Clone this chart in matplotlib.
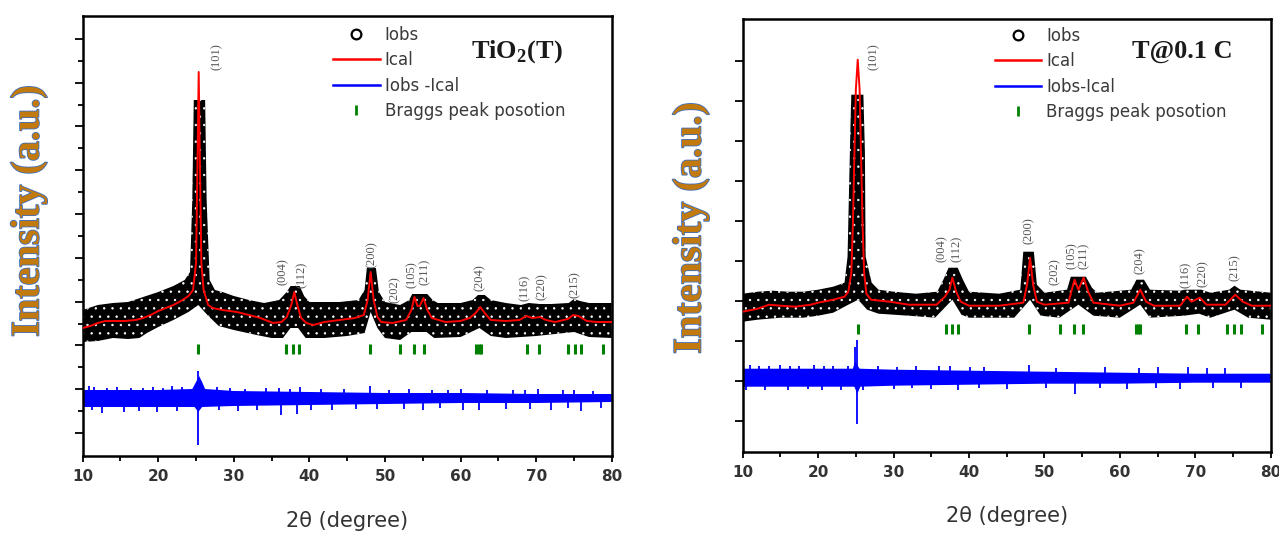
import matplotlib
matplotlib.use("Agg")
import matplotlib.pyplot as plt
import numpy as np
from matplotlib.lines import Line2D
import matplotlib.patheffects as pe

plt.rcParams["mathtext.fontset"] = "custom"
plt.rcParams["mathtext.rm"] = "Liberation Serif"
plt.rcParams["mathtext.bf"] = "Liberation Serif:bold"
plt.rcParams["hatch.linewidth"] = 0.5

# ---------------- data: TiO2 (T) ----------------
T_CAL_X = [10, 11, 12, 13, 14, 15.5, 17, 18, 19, 20, 21, 22, 23, 24, 24.6, 25.0, 25.2, 25.35, 25.5, 25.7, 26.0,
           26.6, 27.2, 28.5, 30.4, 32, 33.5, 35.2, 36.3, 37.0, 37.6, 38.0, 38.4, 38.9, 39.6, 40.5, 42, 44, 46,
           47.2, 47.7, 48.1, 48.5, 49, 49.5, 51, 52.8, 53.5, 53.9, 54.3, 54.6, 55.1, 55.6, 56.2, 58, 60, 61.2,
           62, 62.6, 63.3, 64, 66, 67.8, 68.7, 69.5, 70.5, 71.3, 72.5, 74.2, 74.9, 75.6, 76.7, 78, 80]
T_CAL_Y = [128, 130, 133, 135, 135, 135, 136, 138, 141, 145, 148, 151, 155, 160, 166, 193, 299, 384, 299, 193, 166,
           151, 148, 146, 144, 141, 138, 133, 134, 139, 151, 164, 151, 138, 133, 131, 134, 136, 138,
           141, 156, 184, 156, 139, 134, 133, 136, 146, 159, 150, 150, 158, 146, 138, 134, 135, 138,
           143, 149, 142, 136, 135, 136, 140, 138, 139, 136, 134, 137, 141, 140, 135, 134, 134]

T_OBS_UP_X = [10, 12, 14, 16, 18, 20, 22, 23.5, 24.2, 24.5, 24.7, 26.2, 26.4, 26.8, 27.5, 28.5, 30, 32, 34, 36, 37,
              37.5, 38.7, 39.3, 40, 44, 46.5, 47.3, 47.6, 48.8, 49.2, 50, 52, 53.2, 53.6, 55.6, 56.3, 57, 60,
              61.6, 62.3, 63.2, 64, 66, 68, 69, 70.5, 72, 74.3, 75, 75.8, 77, 80]
T_OBS_UP_Y = [146, 151, 153, 154, 159, 164, 170, 176, 184, 256, 356, 356, 256, 176, 166, 164, 160, 156, 153, 156, 164,
              170, 170, 160, 154, 154, 156, 166, 188, 188, 164, 154, 151, 156, 162, 162, 156, 153, 153,
              156, 161, 161, 156, 153, 151, 153, 152, 152, 153, 157, 155, 153, 153]
T_OBS_LO_X = [10, 12, 14, 16, 17.5, 18.5, 20, 22, 24, 25.3, 26.5, 28, 30, 33, 35, 36.5, 37.5, 38.5, 39.5, 42, 45,
              47.3, 48.1, 49, 50, 52, 53.5, 55.5, 56.5, 60, 62.5, 64, 66, 70, 75, 77, 80]
T_OBS_LO_Y = [114, 115, 118, 117, 118, 123, 129, 136, 144, 151, 141, 130, 126, 121, 118, 118, 128, 128, 118, 118, 120,
              123, 144, 128, 118, 116, 124, 124, 118, 119, 128, 120, 118, 120, 124, 119, 118]

T_DIF_UP_X = [10, 15, 20, 24.5, 25.0, 25.4, 25.8, 26.2, 30, 40, 50, 60, 70, 80]
T_DIF_UP_Y = [66, 66, 66, 67, 74, 80, 74, 67, 65, 64, 63, 63, 62, 62]
T_DIF_LO_X = [10, 20, 24.8, 25.3, 25.8, 30, 40, 50, 60, 70, 80]
T_DIF_LO_Y = [49, 49, 49, 44, 49, 50, 51, 52, 53, 53, 54]
T_SPIKE_X = [10.8, 11.5, 13.2, 14.6, 16.4, 18, 19.3, 20.6, 21.8, 23.2, 25.3, 27.8, 29.5, 31.5, 34.2, 36, 37.4,
             38.8, 41.5, 44.6, 48.0, 50.5, 53.2, 56.2, 58.4, 60, 63.5, 67, 68.5, 70.2, 73.5, 75, 77.5,
             11.2, 12.5, 15.5, 17.5, 19.8, 22.5, 25.3, 28, 30.6, 33, 36.2, 38.3, 40.2, 43, 46.2, 49, 52.5,
             55, 57.3, 60.3, 62.5, 66, 69.2, 72, 74.2, 76, 78.6]
T_SPIKE_Y = [70, 69, 68, 69, 68, 68, 69, 68, 70, 69, 85, 69, 68, 67, 68, 68, 67,
             69, 67, 67, 70, 66, 67, 66, 66, 67, 66, 66, 66, 67, 66, 66, 65,
             46, 43, 44, 45, 44, 45, 11, 46, 45, 46, 41, 42, 46, 46, 47, 47, 47,
             46, 48, 46, 46, 47, 47, 46, 48, 45, 48]

# ---------------- data: T@0.1 C ----------------
C_CAL_X = [10, 12, 13.5, 15, 17, 19, 20, 22, 23.5, 24.0, 24.4, 24.6, 25.0, 25.25, 25.5, 25.9, 26.1, 26.4, 27.0,
           29.5, 32, 35.7, 36.8, 37.4, 37.8, 38.3, 38.9, 40, 44, 47.2, 47.7, 48.1, 48.5, 49, 50, 53.2, 53.7,
           54.0, 54.5, 55.2, 55.8, 56.5, 60, 61.8, 62.7, 63.5, 64.5, 68, 68.9, 69.5, 70.6, 71.5, 74, 75.3,
           76.3, 77.5, 80]
C_CAL_Y = [140, 143, 147, 146, 145, 147, 149, 152, 155, 160, 179, 225, 362, 392, 362, 225, 179, 158, 152,
           150, 147, 147, 155, 162, 174, 160, 150, 146, 146, 149, 167, 194, 167, 150, 147, 149, 164,
           172, 162, 174, 160, 149, 146, 149, 162, 150, 146, 146, 155, 150, 154, 147, 147, 157,
           150, 146, 146]

C_OBS_UP_X = [10, 12, 14, 16, 18, 20, 22, 23.5, 23.9, 24.3, 24.4, 26.0, 26.2, 26.3, 27.1, 28, 30, 33, 35.8, 36.6,
              37.3, 38.5, 39.2, 40, 44, 46.8, 47.2, 48.6, 49.0, 50, 53, 53.5, 55.5, 56.3, 57, 61.5, 62.2, 63.2,
              64, 68, 68.6, 70.8, 72, 74.5, 75.2, 76, 80]
C_OBS_UP_Y = [158, 160, 161, 160, 160, 162, 165, 169, 195, 330, 357, 357, 300, 195, 169, 162, 160, 158, 160, 172,
              184, 184, 172, 160, 158, 162, 200, 200, 167, 159, 162, 175, 175, 164, 159, 162, 172, 172,
              162, 161, 162, 162, 159, 162, 166, 162, 159]
C_OBS_LO_X = [10, 12, 15, 18, 20, 22, 24, 25.3, 26.5, 28, 32, 35.5, 37.8, 39, 40, 46, 48.1, 49.5, 52, 54.5, 56.5,
              60, 62.7, 64, 68.5, 70.5, 72, 75.2, 77, 80]
C_OBS_LO_Y = [130, 132, 134, 134, 136, 139, 147, 152, 142, 138, 136, 134, 152, 137, 134, 134, 152, 136, 134, 147, 136,
              134, 147, 134, 136, 138, 134, 142, 134, 132]

C_DIF_UP_X = [10, 24.6, 24.9, 25.5, 30, 40, 50, 60, 70, 80]
C_DIF_UP_Y = [83, 83, 90, 83, 82, 81, 80, 79, 78, 78]
C_DIF_LO_X = [10, 24.8, 25.2, 25.6, 30, 40, 50, 60, 70, 80]
C_DIF_LO_Y = [65, 65, 58, 65, 66, 67, 68, 68, 69, 69]
C_SPIKE_X = [11, 12.2, 13.5, 15, 16.3, 17.5, 19.5, 20.8, 22, 24, 24.9, 25.2, 28, 30.5, 33, 36, 37.5, 40.1, 42,
             48, 51.5, 58, 62.6, 65, 69, 71.5, 74,
             10.5, 13, 16, 18.6, 20.5, 23, 25.2, 26, 30, 32.4, 35, 38.5, 41.3, 45, 50.2, 54, 57.4, 61,
             64.8, 68, 72.3, 76]
C_SPIKE_Y = [87, 86, 86, 87, 86, 86, 87, 86, 86, 86, 105, 112, 86, 85, 86, 86, 86, 85, 85,
             87, 84, 85, 84, 85, 85, 84, 84,
             62, 62, 62, 63, 62, 62, 28, 62, 63, 64, 63, 62, 64, 63, 64, 58, 64, 63,
             64, 63, 64, 64]

# ---------------- shared ----------------
BRAGG_X = [25.3, 36.9, 37.8, 38.6, 48.0, 52.0, 53.9, 55.1, 62.1, 62.4, 62.7, 68.8, 70.4, 74.2, 75.1, 76.0, 78.8]
HKL = ["(101)", "(004)", "(112)", "(200)", "(202)", "(105)", "(211)", "(204)", "(116)", "(220)", "(215)"]
T_HKL_X = [27.7, 36.5, 39.0, 48.2, 51.3, 53.6, 55.3, 62.5, 68.5, 70.7, 75.1]
T_HKL_Y = [399, 184, 181, 201, 166, 181, 184, 178, 168, 169, 171]
C_HKL_X = [27.4, 36.4, 38.4, 47.9, 51.4, 53.6, 55.2, 62.7, 68.7, 71.0, 75.3]
C_HKL_Y = [395, 203, 203, 221, 180, 196, 196, 191, 177, 178, 184]

W, H = 1279, 534
fig = plt.figure(figsize=(W / 100, H / 100), dpi=100)


def draw_panel(rect, cal_x, cal_y, up_x, up_y, lo_x, lo_y, dup_x, dup_y, dlo_x, dlo_y, sp_x, sp_y,
               hkl_x, hkl_y, bragg_y, ylim, yticks, minor, title, diff_label, leg_anchor):
    ax = fig.add_axes(rect)
    mid_x = np.array(dup_x, dtype=float)
    mid_y = (np.array(dup_y) + np.interp(mid_x, dlo_x, dlo_y)) / 2
    dif_base = np.interp(sp_x, mid_x, mid_y)

    # observed band (black with white speckles like overlapping open circles)
    ax.fill(np.r_[up_x, lo_x[::-1]], np.r_[up_y, lo_y[::-1]], facecolor="black",
            edgecolor="white", hatch="..", linewidth=0, zorder=2)
    ax.plot(cal_x, cal_y, color="#ff0000", lw=1.4, zorder=3)
    # difference
    ax.fill(np.r_[dup_x, dlo_x[::-1]], np.r_[dup_y, dlo_y[::-1]], facecolor="#0000ff",
            edgecolor="none", zorder=2)
    ax.vlines(sp_x, dif_base, sp_y, color="#0000ff", lw=1.3, zorder=2)
    # bragg positions
    ax.plot(BRAGG_X, [bragg_y] * len(BRAGG_X), ls="none", marker="|", ms=6.5, mew=2.2,
            color="#008000", zorder=3)
    for lab, x, y in zip(HKL, hkl_x, hkl_y):
        ax.text(x, y, lab, rotation=90, ha="center", va="center", fontsize=9,
                family="Liberation Serif", color="#555555", zorder=4)

    ax.set_xlim(10, 80)
    ax.set_ylim(*ylim)
    ax.set_xticks(np.arange(10, 81, 10))
    ax.set_xticks(np.arange(15, 80, 10), minor=True)
    ax.set_yticks(yticks)
    if minor is not None:
        ax.set_yticks(minor, minor=True)
    ax.set_yticklabels([])
    ax.tick_params(axis="both", which="major", direction="out", length=5.5, width=1.3,
                   labelsize=11, labelcolor="#333333", pad=5)
    ax.tick_params(axis="both", which="minor", direction="out", length=3.5, width=1.3)
    ax.tick_params(axis="x", which="major", length=4.5)
    for lab in ax.get_xticklabels():
        lab.set_fontweight("bold")
    for s in ax.spines.values():
        s.set_linewidth(1.8)

    handles = [
        Line2D([], [], ls="none", marker="o", ms=7, mfc="white", mec="black", mew=1.6),
        Line2D([], [], color="#ff0000", lw=1.8),
        Line2D([], [], color="#0000ff", lw=1.8),
        Line2D([], [], ls="none", marker="|", ms=6.5, mew=2, color="#008000"),
    ]
    ax.legend(handles, ["Iobs", "Ical", diff_label, "Braggs peak posotion"], loc="upper left",
              bbox_to_anchor=leg_anchor, frameon=False, borderpad=0, borderaxespad=0,
              handlelength=2.8, handletextpad=0.3, labelspacing=0.45,
              prop={"family": "DejaVu Sans", "size": 12}, labelcolor="#3a3a3a")
    ax.text(title[1], title[2], title[0], transform=ax.transAxes, ha="center", va="center",
            fontsize=19, fontweight="bold", family="Liberation Serif", color="#1a1a1a")
    ax.set_xlabel("2θ (degree)", fontsize=15, color="#333333", labelpad=19)
    return ax


left_ticks = 23 + 43.8 * np.arange(10)
draw_panel([82.7 / W, 1 - 456 / H, 529 / W, 440 / H],
           T_CAL_X, T_CAL_Y, np.array(T_OBS_UP_X), np.array(T_OBS_UP_Y), np.array(T_OBS_LO_X),
           np.array(T_OBS_LO_Y), np.array(T_DIF_UP_X), np.array(T_DIF_UP_Y), np.array(T_DIF_LO_X),
           np.array(T_DIF_LO_Y), T_SPIKE_X, T_SPIKE_Y, T_HKL_X, T_HKL_Y, 107, (0, 440),
           left_ticks, left_ticks[:-1] + 21.9, (r"TiO$_\mathbf{2}$(T)", 0.821, 0.92), "Iobs -Ical",
           (0.473, 0.978))

right_ticks = 31 + 40 * np.arange(10)
draw_panel([742.7 / W, 1 - 451.7 / H, 528 / W, 432.7 / H],
           C_CAL_X, C_CAL_Y, np.array(C_OBS_UP_X), np.array(C_OBS_UP_Y), np.array(C_OBS_LO_X),
           np.array(C_OBS_LO_Y), np.array(C_DIF_UP_X), np.array(C_DIF_UP_Y), np.array(C_DIF_LO_X),
           np.array(C_DIF_LO_Y), C_SPIKE_X, C_SPIKE_Y, C_HKL_X, C_HKL_Y, 123, (0, 432.7),
           right_ticks, None, ("T@0.1 C", 0.832, 0.926), "Iobs-Ical", (0.477, 0.982))

for x, y in [(29, 211), (691, 228)]:
    fig.text(x / W, 1 - y / H, "Intensity (a.u.)", rotation=90, ha="center", va="center",
             fontsize=29, fontweight="bold", family="Liberation Serif", color="#c27a0e",
             path_effects=[pe.withStroke(linewidth=1.2, foreground="#3a6fc0")])

fig.savefig("out.png", dpi=100)
